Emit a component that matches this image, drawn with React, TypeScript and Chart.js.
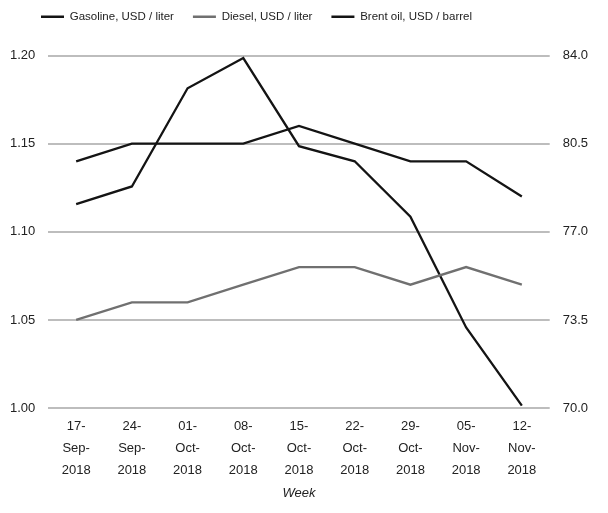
import React, { useEffect, useRef } from "react";
import { Chart, registerables } from "chart.js";

Chart.register(...registerables);

const weeks: string[][] = [
  ["17-", "Sep-", "2018"],
  ["24-", "Sep-", "2018"],
  ["01-", "Oct-", "2018"],
  ["08-", "Oct-", "2018"],
  ["15-", "Oct-", "2018"],
  ["22-", "Oct-", "2018"],
  ["29-", "Oct-", "2018"],
  ["05-", "Nov-", "2018"],
  ["12-", "Nov-", "2018"],
];
const gasoline = [1.14, 1.15, 1.15, 1.15, 1.16, 1.15, 1.14, 1.14, 1.12];
const diesel = [1.05, 1.06, 1.06, 1.07, 1.08, 1.08, 1.07, 1.08, 1.07];
const brent = [78.1, 78.8, 82.7, 83.9, 80.4, 79.8, 77.6, 73.2, 70.1];

const FONT = "'Liberation Sans', Arial, sans-serif";

const legendMargin = {
  id: "legendMargin",
  beforeInit(chart: any) {
    const lg = chart.legend;
    if (!lg) return;
    const orig = lg.fit;
    lg.fit = function () {
      orig.bind(lg)();
      lg.height += 23;
    };
  },
  afterLayout(chart: any) {
    if (chart.legend) chart.legend.left = 22;
  },
};

export default function App() {
  const ref = useRef<HTMLCanvasElement | null>(null);
  useEffect(() => {
    if (!ref.current) return;
    const chart = new Chart(ref.current, {
      type: "line",
      data: {
        labels: weeks,
        datasets: [
          {
            label: "Gasoline, USD / liter",
            data: gasoline,
            borderColor: "#141414",
            backgroundColor: "#141414",
            borderWidth: 2.3,
            pointRadius: 0,
            yAxisID: "y",
            tension: 0,
          },
          {
            label: "Diesel, USD / liter",
            data: diesel,
            borderColor: "#707070",
            backgroundColor: "#707070",
            borderWidth: 2.3,
            pointRadius: 0,
            yAxisID: "y",
            tension: 0,
          },
          {
            label: "Brent oil, USD / barrel",
            data: brent,
            borderColor: "#141414",
            backgroundColor: "#141414",
            borderWidth: 2.3,
            pointRadius: 0,
            yAxisID: "y1",
            tension: 0,
          },
        ],
      },
      plugins: [legendMargin],
      options: {
        animation: false,
        responsive: true,
        maintainAspectRatio: false,
        layout: { padding: { left: -3, right: 7, top: -8, bottom: 12 } },
        plugins: {
          legend: {
            position: "top",
            align: "start",
            labels: {
              usePointStyle: true,
              pointStyle: "line",
              pointStyleWidth: 23,
              color: "#222",
              font: { family: FONT, size: 11.5 },
              padding: 19,
              boxHeight: 2,
            },
          },
          tooltip: { enabled: false },
        },
        scales: {
          x: {
            offset: true,
            grid: { display: false, drawTicks: false },
            border: { display: false },
            ticks: {
              color: "#222",
              font: { family: FONT, size: 13, lineHeight: 1.7 },
              maxRotation: 0,
              autoSkip: false,
              padding: 7,
            },
            title: {
              display: true,
              text: "Week",
              color: "#222",
              font: { family: FONT, size: 13, style: "italic" },
              padding: { top: -3, bottom: 0 },
            },
          },
          y: {
            position: "left",
            min: 1.0,
            max: 1.2,
            grid: { color: "#bdbdbd", lineWidth: 2, drawTicks: false },
            border: { display: false },
            ticks: {
              stepSize: 0.05,
              color: "#222",
              font: { family: FONT, size: 13 },
              padding: 13,
              callback: (v: any) => Number(v).toFixed(2),
            },
          },
          y1: {
            position: "right",
            min: 70,
            max: 84,
            grid: { display: false, drawTicks: false },
            border: { display: false },
            ticks: {
              stepSize: 3.5,
              color: "#222",
              font: { family: FONT, size: 13 },
              padding: 13,
              callback: (v: any) => Number(v).toFixed(1),
            },
          },
        },
      },
    });
    return () => chart.destroy();
  }, []);
  return (
    <div style={{ position: "fixed", left: 0, top: 0, width: 608, height: 513, background: "#fff" }}>
      <canvas ref={ref} />
    </div>
  );
}
